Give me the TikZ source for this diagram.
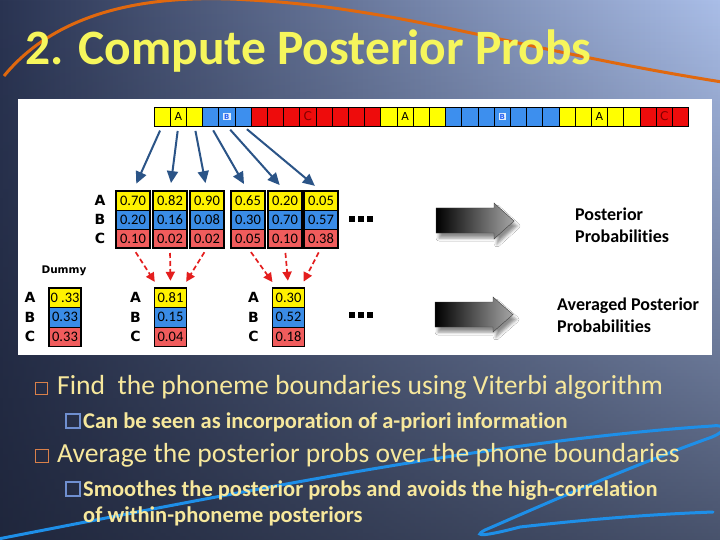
\documentclass[tikz,border=0pt]{standalone}
\usepackage{fontspec}
\setmainfont{Carlito}[Ligatures=NoCommon]
\newfontfamily\tahoma{DejaVu Sans}
\usepackage{tikz}
\usetikzlibrary{calc,arrows.meta,shadows.blur,fadings}
\definecolor{bgdark}{HTML}{1A2032}
\definecolor{bgleft}{HTML}{2A3452}
\definecolor{bglight}{HTML}{AABEE8}
\definecolor{title}{HTML}{F6F65C}
\definecolor{txt}{HTML}{F7E89C}
\definecolor{orng}{HTML}{E0680E}
\definecolor{scrib}{HTML}{1E8FE8}
\definecolor{ybar}{HTML}{FFFF00}
\definecolor{bbar}{HTML}{3D8FEE}
\definecolor{rbar}{HTML}{EE0C0C}
\definecolor{yprob}{HTML}{FFF200}
\definecolor{bprob}{HTML}{3A8CE6}
\definecolor{rprob}{HTML}{F05C5C}
\definecolor{steel}{HTML}{2B5487}
\definecolor{dred}{HTML}{E41E1E}
\definecolor{bulone}{HTML}{D9804A}
\definecolor{bultwo}{HTML}{6F8FD0}
\tikzfading[name=sink, top color=transparent!100, bottom color=transparent!32]
\tikzset{
  cell/.style={draw=black, line width=0.8pt, minimum width=16.2pt, minimum height=19pt, inner sep=0pt, outer sep=0pt},
  prob/.style={draw=black, line width=0.5pt, minimum width=34pt, minimum height=19pt, inner sep=0pt, outer sep=0pt, font=\fontsize{14.5}{14.5}\selectfont},
  aprob/.style={prob, minimum width=32pt, minimum height=19.5pt},
  frame/.style={draw=black, line width=1.4pt},
  rowlab/.style={font=\tahoma\bfseries\fontsize{14}{14}\selectfont, inner sep=0pt},
  down/.style={draw=steel, line width=2pt, -{Triangle[length=12pt,width=11pt]}, shorten <=5pt, shorten >=8pt},
  avg/.style={draw=dred, line width=1.7pt, dash pattern=on 5pt off 3pt, -{Triangle[length=9pt,width=9pt]}, shorten <=5pt, shorten >=7pt},
  side/.style={font=\bfseries\fontsize{18}{22}\selectfont, align=left, anchor=west, inner sep=0pt},
  lvlone/.style={text=txt, font=\fontsize{27.6}{27.6}\selectfont, anchor=base west, inner sep=0pt},
  lvltwo/.style={text=txt, font=\bfseries\fontsize{22.5}{22.5}\selectfont, anchor=base west, inner sep=0pt},
  bigarr/.style={left color=black, right color=gray!70!white, draw=gray!50!black, line width=0.4pt,
    blur shadow={shadow xshift=3pt, shadow yshift=-5pt, shadow blur radius=3pt, shadow opacity=45}},
}

\begin{document}
\begin{tikzpicture}[x=1pt,y=-1pt]
  \useasboundingbox (0,0) rectangle (720,540);
  % slide background
  \shade[left color=bgleft, right color=bglight] (0,0) rectangle (720,540);
  \fill[bgdark, path fading=sink] (0,0) rectangle (720,540);
  \draw[orng, line width=3pt] (4,76) .. controls (50,20) and (130,-8) .. (250,0)
    .. controls (400,8) and (520,50) .. (722,82);
  \draw[scrib, line width=3pt, line cap=round] (-2,539) .. controls (250,490) and (500,440) .. (712,426)
    .. controls (728,424) and (725,432) .. (712,437)
    .. controls (620,470) and (520,515) .. (485,530)
    .. controls (470,538) and (490,535) .. (520,527)
    .. controls (600,518) and (660,514) .. (713,512);
  \node[text=title, font=\bfseries\fontsize{49.5}{50}\selectfont, anchor=base west, inner sep=0pt] (ttl) at (25,65) {2. Compute Posterior Probs};

  % white panel
  \fill[white] (18,99) rectangle (712,355);

  % frame sequence
  \foreach \col [count=\i from 0] in {ybar,ybar,ybar,bbar,bbar,bbar,rbar,rbar,rbar,rbar,rbar,rbar,rbar,rbar,
      ybar,ybar,ybar,ybar,bbar,bbar,bbar,bbar,bbar,bbar,bbar,ybar,ybar,ybar,ybar,ybar,rbar,rbar,rbar}
    \node[cell, fill=\col] (c\i) at ({154+16.2*(\i+0.5)},116.5) {};
  \foreach \k/\s in {1/A,15/A,27/A}
    \node[font=\tahoma\fontsize{11}{11}\selectfont, inner sep=0pt] (l\k) at (c\k) {\s};
  \foreach \k in {4,21}
    \node[font=\tahoma\bfseries\fontsize{7}{7}\selectfont, text=bbar!70!blue, fill=white!85!bbar, inner sep=1pt] (l\k) at (c\k) {B};
  \foreach \k in {9,31}
    \node[font=\tahoma\fontsize{12}{12}\selectfont, text=red!50!black, inner sep=0pt] (l\k) at (c\k) {C};

  % frame posteriors
  \foreach \x/\a/\b/\c [count=\i] in {133/0.70/0.20/0.10, 170/0.82/0.16/0.02, 207/0.90/0.08/0.02,
      248/0.65/0.30/0.05, 285/0.20/0.70/0.10, 321/0.05/0.57/0.38} {
    \node[prob, fill=yprob] (p\i-1) at (\x,200.5) {\a};
    \node[prob, fill=bprob] (p\i-2) at (\x,219.5) {\b};
    \node[prob, fill=rprob] (p\i-3) at (\x,238.5) {\c};
    \draw[frame] (p\i-1.north west) rectangle (p\i-3.south east);
  }
  \node[rowlab] (ra) at (100,200) {A};
  \node[rowlab] (rb) at (100,219.5) {B};
  \node[rowlab] (rc) at (100,238.5) {C};
  \foreach \j [count=\i] in {0,...,5}
    \draw[down] (c\j.south) -- (p\i-1.north);

  % averaged posteriors
  \node[font=\tahoma\bfseries\fontsize{10.5}{10.5}\selectfont] (dum) at (64,271) {Dummy};
  \foreach \x/\a/\b/\c/\n in {65/{0 .33}/0.33/0.33/dm, 170.5/0.81/0.15/0.04/q1, 288.5/0.30/0.52/0.18/q2} {
    \node[aprob, fill=yprob] (\n-1) at (\x,297.5) {\a};
    \node[aprob, fill=bprob] (\n-2) at (\x,317) {\b};
    \node[aprob, fill=rprob] (\n-3) at (\x,336.5) {\c};
    \draw[frame] (\n-1.north west) rectangle (\n-3.south east);
    \node[rowlab] (\n-a) at (\x-35,297) {A};
    \node[rowlab] (\n-b) at (\x-35,317) {B};
    \node[rowlab] (\n-c) at (\x-35,336.5) {C};
  }
  \draw[avg] (p1-3.south) -- ([xshift=-12pt]q1-1.north);
  \draw[avg] (p2-3.south) -- (q1-1.north);
  \draw[avg] (p3-3.south) -- ([xshift=12pt]q1-1.north);
  \draw[avg] (p4-3.south) -- ([xshift=-12pt]q2-1.north);
  \draw[avg] (p5-3.south) -- (q2-1.north);
  \draw[avg] (p6-3.south) -- ([xshift=12pt]q2-1.north);

  % ellipses
  \foreach \y in {219,315}
    \foreach \x in {349,358,367}
      \fill[black] (\x,\y-3) rectangle ++(6,6);

  % big arrows and captions
  \path[bigarr] (436,208) -- (494,208) -- (494,203) -- (514,221) -- (494,239) -- (494,233) -- (436,233) -- cycle;
  \path[bigarr] (435,302) -- (493,302) -- (493,297) -- (513,314.5) -- (493,332) -- (493,327) -- (435,327) -- cycle;
  \node[side] (post) at (575,225) {Posterior\\Probabilities};
  \node[side] (apost) at (557,315) {Averaged Posterior\\Probabilities};

  % bullets
  \draw[bulone, line width=1pt] (35,382) rectangle (47,394);
  \node[lvlone] (b1) at (57,394) {Find\ \ the phoneme boundaries using Viterbi algorithm};
  \draw[bultwo, line width=1.2pt] (66,414) rectangle (80,428);
  \node[lvltwo] (b1a) at (83,428) {Can be seen as incorporation of a-priori information};
  \draw[bulone, line width=1pt] (35,449) rectangle (48,462);
  \node[lvlone] (b2) at (57,462) {Average the posterior probs over the phone boundaries};
  \draw[bultwo, line width=1.2pt] (66,482) rectangle (80,496);
  \node[lvltwo] (b2a) at (83,496) {Smoothes the posterior probs and avoids the high-correlation};
  \node[lvltwo] (b2b) at (83,522) {of within-phoneme posteriors};
\end{tikzpicture}
\end{document}
